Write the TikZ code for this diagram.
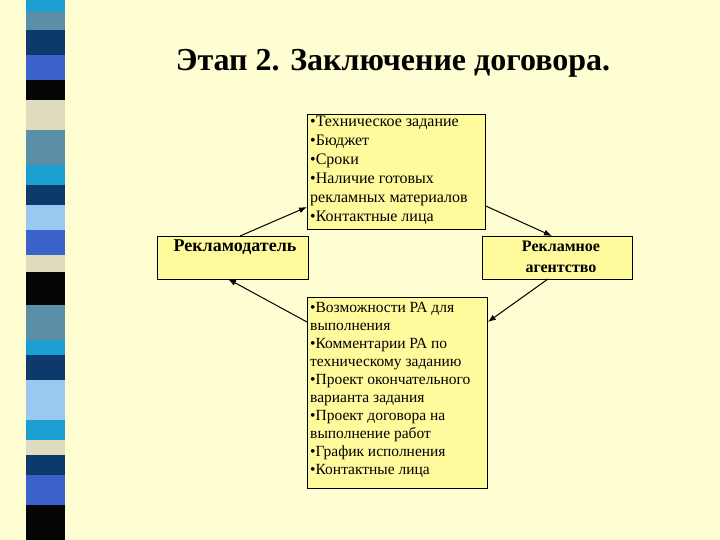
\documentclass[tikz,border=0pt]{standalone}
\usepackage{fontspec}
\usetikzlibrary{arrows.meta}
\setmainfont{Liberation Serif}
\begin{document}
\begin{tikzpicture}[x=1pt,y=-1pt,
  box/.style={draw=black,line width=0.8pt,fill=boxy,inner sep=0pt},
  arr/.style={-{Latex[length=8pt,width=6pt]},line width=1pt},
  txt/.style={align=left,anchor=north west,inner sep=0pt}]
\definecolor{bg}{HTML}{FFFDD2}
\definecolor{boxy}{HTML}{FFFA9C}
\definecolor{c1}{HTML}{1A9FD0}
\definecolor{c2}{HTML}{5B8FA8}
\definecolor{c3}{HTML}{0E3A6B}
\definecolor{c4}{HTML}{3A62C8}
\definecolor{c5}{HTML}{050505}
\definecolor{c6}{HTML}{E0DCC0}
\definecolor{c7}{HTML}{99C8F0}
\fill[bg] (0,0) rectangle (720,540);
\foreach \a/\b/\c in {0/12/c1,12/30/c2,30/55/c3,55/80/c4,80/100/c5,100/130/c6,130/165/c2,165/185/c1,185/205/c3,205/230/c7,230/255/c4,255/272/c6,272/305/c5,305/340/c2,340/355/c1,355/380/c3,380/420/c7,420/440/c1,440/455/c6,455/475/c3,475/505/c4,505/540/c5}
  \fill[\c] (26,\a) rectangle (65,\b);
\node[font=\bfseries\fontsize{32}{36}\selectfont] (title) at (393,63) {Этап 2. Заключение договора.};
\node[box,minimum width=178,minimum height=115,anchor=north west] (top) at (307,114) {};
\node[txt,font=\fontsize{16}{19}\selectfont] at (310,116) {•Техническое задание\\•Бюджет\\•Сроки\\•Наличие готовых\\рекламных материалов\\•Контактные лица};
\node[box,minimum width=151,minimum height=43,anchor=north west] (left) at (157,236) {};
\node[font=\bfseries\fontsize{18}{20}\selectfont,anchor=north] at (235,236) {Рекламодатель};
\node[box,minimum width=150,minimum height=43,anchor=north west] (right) at (482,236) {};
\node[font=\bfseries\fontsize{16}{21}\selectfont,align=center,anchor=north] at (561,237) {Рекламное\\агентство};
\node[box,minimum width=180,minimum height=191,anchor=north west] (bot) at (307,297) {};
\node[txt,font=\fontsize{15.5}{18}\selectfont] at (310,302) {•Возможности РА для\\выполнения\\•Комментарии РА по\\техническому заданию\\•Проект окончательного\\варианта задания\\•Проект договора на\\выполнение работ\\•График исполнения\\•Контактные лица};
\coordinate (l1) at (240,236);
\coordinate (r1) at (552,236);
\coordinate (r2) at (548,279);
\coordinate (l2) at (228,279);
\draw[arr] (l1) -- (top.north west |- 0,207);
\draw[arr] (top.north east |- 0,206) -- (r1);
\draw[arr] (r2) -- (bot.north east |- 0,322);
\draw[arr] (bot.north west |- 0,322) -- (l2);
\end{tikzpicture}
\end{document}
